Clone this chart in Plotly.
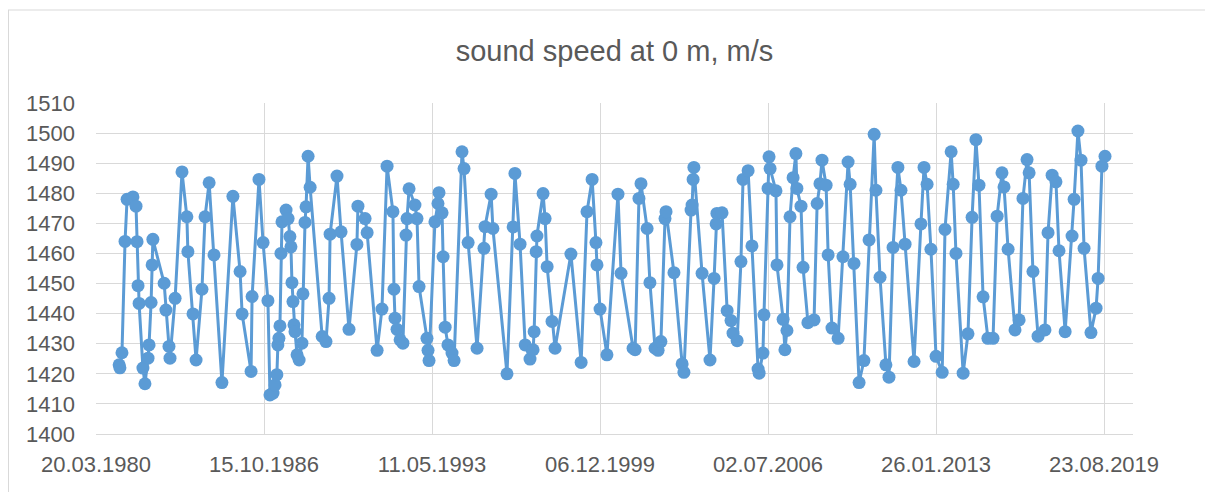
import pandas as pd
import plotly.graph_objects as go

years = [
    1981.12, 1981.15, 1981.23, 1981.35, 1981.43, 1981.66, 1981.78, 1981.82, 1981.86, 1981.90,
    1982.05, 1982.13, 1982.25, 1982.29, 1982.37, 1982.41, 1982.44, 1982.88, 1982.95, 1983.07,
    1983.11, 1983.31, 1983.58, 1983.77, 1983.81, 1984.01, 1984.13, 1984.36, 1984.48, 1984.64,
    1984.83, 1985.14, 1985.57, 1985.85, 1985.93, 1986.28, 1986.32, 1986.59, 1986.75, 1986.94,
    1987.02, 1987.14, 1987.22, 1987.29, 1987.33, 1987.37, 1987.41, 1987.45, 1987.49, 1987.65,
    1987.73, 1987.80, 1987.84, 1987.88, 1987.92, 1987.96, 1988.00, 1988.08, 1988.16, 1988.27,
    1988.31, 1988.39, 1988.43, 1988.51, 1988.59, 1989.06, 1989.21, 1989.33, 1989.37, 1989.64,
    1989.80, 1990.11, 1990.42, 1990.46, 1990.74, 1990.82, 1991.21, 1991.40, 1991.60, 1991.83,
    1991.87, 1991.91, 1991.99, 1992.11, 1992.22, 1992.34, 1992.38, 1992.46, 1992.69, 1992.77,
    1992.85, 1993.16, 1993.20, 1993.24, 1993.47, 1993.59, 1993.63, 1993.75, 1993.79, 1993.87,
    1993.98, 1994.14, 1994.22, 1994.53, 1994.61, 1994.77, 1995.12, 1995.39, 1995.43, 1995.67,
    1995.74, 1996.29, 1996.53, 1996.60, 1996.80, 1997.00, 1997.19, 1997.31, 1997.35, 1997.43,
    1997.46, 1997.70, 1997.78, 1997.86, 1998.05, 1998.17, 1998.79, 1999.19, 1999.42, 1999.62,
    1999.77, 1999.81, 1999.93, 2000.20, 2000.63, 2000.75, 2001.22, 2001.30, 2001.45, 2001.53,
    2001.77, 2001.88, 2002.08, 2002.20, 2002.31, 2002.47, 2002.51, 2002.82, 2003.14, 2003.21,
    2003.49, 2003.53, 2003.57, 2003.60, 2003.92, 2004.23, 2004.39, 2004.47, 2004.50, 2004.70,
    2004.90, 2005.05, 2005.13, 2005.29, 2005.44, 2005.52, 2005.72, 2005.87, 2006.11, 2006.15,
    2006.30, 2006.34, 2006.50, 2006.54, 2006.58, 2006.81, 2006.85, 2007.09, 2007.16, 2007.24,
    2007.36, 2007.48, 2007.59, 2007.63, 2007.79, 2007.87, 2008.06, 2008.30, 2008.42, 2008.53,
    2008.61, 2008.77, 2008.85, 2009.00, 2009.24, 2009.43, 2009.63, 2009.71, 2009.86, 2010.06,
    2010.25, 2010.45, 2010.65, 2010.72, 2010.88, 2011.11, 2011.23, 2011.39, 2011.58, 2011.70,
    2011.86, 2012.21, 2012.48, 2012.60, 2012.72, 2012.87, 2013.07, 2013.31, 2013.42, 2013.66,
    2013.74, 2013.85, 2014.13, 2014.32, 2014.48, 2014.63, 2014.75, 2014.91, 2015.10, 2015.30,
    2015.46, 2015.65, 2015.73, 2015.89, 2016.16, 2016.32, 2016.47, 2016.63, 2016.71, 2016.86,
    2017.06, 2017.33, 2017.45, 2017.61, 2017.76, 2017.88, 2018.12, 2018.39, 2018.47, 2018.62,
    2018.74, 2018.86, 2019.13, 2019.33, 2019.41, 2019.56, 2019.68,
]

# sound speed at 0 m, m/s
speed = [
    1423.0, 1422.0, 1427.0, 1464.0, 1478.0, 1478.8, 1475.7, 1463.9, 1449.3, 1443.4,
    1421.9, 1416.7, 1425.2, 1429.6, 1443.7, 1456.2, 1464.7, 1450.1, 1441.2, 1429.1,
    1425.2, 1445.1, 1487.1, 1472.2, 1460.6, 1439.9, 1424.6, 1448.1, 1472.2, 1483.5,
    1459.5, 1417.1, 1479.0, 1454.0, 1439.9, 1420.8, 1445.7, 1484.6, 1463.6, 1444.3,
    1413.0, 1413.6, 1416.3, 1419.7, 1429.6, 1431.8, 1435.9, 1460.0, 1470.5, 1474.4,
    1471.6, 1465.6, 1462.2, 1450.3, 1444.0, 1436.3, 1434.0, 1426.3, 1424.6, 1430.2,
    1446.6, 1470.3, 1475.5, 1492.3, 1482.0, 1432.4, 1430.7, 1445.1, 1466.4, 1485.7,
    1467.2, 1434.8, 1463.0, 1475.7, 1471.6, 1466.9, 1427.8, 1441.5, 1489.0, 1473.9,
    1448.1, 1438.5, 1434.8, 1431.3, 1430.2, 1466.1, 1471.6, 1481.5, 1476.1, 1471.6,
    1449.0, 1431.8, 1427.8, 1424.4, 1470.5, 1476.6, 1480.2, 1473.5, 1458.9, 1435.5,
    1429.6, 1426.9, 1424.4, 1493.8, 1488.2, 1463.6, 1428.5, 1461.7, 1468.9, 1479.7,
    1468.3, 1420.0, 1468.8, 1486.6, 1463.1, 1429.6, 1424.9, 1428.0, 1434.0, 1460.6,
    1465.8, 1479.9, 1471.6, 1455.6, 1437.4, 1428.5, 1459.8, 1423.8, 1473.9, 1484.6,
    1463.6, 1456.2, 1441.5, 1426.3, 1479.7, 1453.4, 1428.5, 1428.0, 1478.3, 1483.2,
    1468.3, 1450.3, 1428.5, 1427.8, 1430.7, 1471.6, 1473.9, 1453.6, 1423.3, 1420.5,
    1474.4, 1476.1, 1484.6, 1488.6, 1453.4, 1424.6, 1451.7, 1469.8, 1473.3, 1473.5,
    1441.0, 1437.7, 1433.5, 1431.0, 1457.3, 1484.6, 1487.5, 1462.5, 1421.6, 1420.2,
    1426.9, 1439.6, 1481.6, 1492.1, 1488.2, 1480.8, 1456.2, 1438.1, 1428.0, 1434.4,
    1472.2, 1485.2, 1493.2, 1481.6, 1475.7, 1455.4, 1437.0, 1437.9, 1476.6, 1483.2,
    1491.0, 1482.7, 1459.5, 1435.2, 1431.8, 1458.9, 1490.4, 1483.0, 1456.7, 1417.1,
    1424.4, 1464.5, 1499.6, 1481.0, 1452.1, 1423.0, 1418.9, 1462.0, 1488.6, 1481.0,
    1463.1, 1424.1, 1469.8, 1488.6, 1483.0, 1461.4, 1425.8, 1420.5, 1468.0, 1493.8,
    1483.0, 1460.0, 1420.2, 1433.3, 1472.0, 1497.8, 1482.7, 1445.6, 1431.8, 1431.8,
    1472.4, 1486.8, 1482.1, 1461.4, 1434.6, 1437.9, 1478.3, 1491.2, 1486.8, 1454.0,
    1432.5, 1434.6, 1466.9, 1486.0, 1483.8, 1460.9, 1434.0, 1465.8, 1478.0, 1500.7,
    1491.0, 1461.7, 1433.7, 1441.8, 1451.7, 1489.0, 1492.3,
]

title_text = "sound speed at 0 m, m/s"
x_tick_start = "1980-03-20"
x_tick_step_days = 2400
x_range = ["1980-03-20", "2020-10-10"]
y_range = [1400, 1510]
y_step = 10


def dec_to_date(y):
    yr = int(y)
    start = pd.Timestamp(yr, 1, 1)
    end = pd.Timestamp(yr + 1, 1, 1)
    return start + (end - start) * (y - yr)


dates = [dec_to_date(y) for y in years]

# page body has an 8px default margin, so the figure is sized to fit the window
W, H = 1205, 484
ML, MR, MT, MB = 88, 80, 95, 58
PW = W - ML - MR
PH = H - MT - MB

fig = go.Figure()
fig.add_trace(go.Scatter(
    x=dates, y=speed, mode="lines+markers",
    line=dict(color="#5B9BD5", width=3),
    marker=dict(color="#5B9BD5", size=13),
    showlegend=False,
))

font_family = "Liberation Sans, Arial, sans-serif"
grid = "#D9D9D9"

fig.update_layout(
    width=W, height=H,
    margin=dict(l=ML, r=MR, t=MT, b=MB),
    paper_bgcolor="white", plot_bgcolor="white",
    title=dict(text=title_text, x=(ML + PW / 2) / W, xanchor="center",
               y=1 - 43 / H, yanchor="middle", yref="container",
               font=dict(family=font_family, size=29, color="#595959")),
    font=dict(family=font_family, color="#595959"),
)

fig.update_xaxes(
    type="date", range=x_range,
    tick0=x_tick_start, dtick=x_tick_step_days * 86400000,
    tickformat="%d.%m.%Y",
    showgrid=True, gridcolor=grid, gridwidth=1,
    showline=True, linecolor=grid, linewidth=1,
    ticks="", tickfont=dict(size=22, color="#595959"),
    ticklabelstandoff=11,
    zeroline=False,
)
fig.update_yaxes(
    range=y_range, dtick=y_step, tick0=1400,
    showgrid=True, gridcolor=grid, gridwidth=1,
    showline=False, zeroline=False,
    ticks="", tickfont=dict(size=22, color="#595959"),
    ticklabelstandoff=20,
)

# chart-area border (top and left edges visible)
top = (PH + MT - 2) / PH
fig.add_shape(type="line", xref="paper", yref="paper",
              x0=-ML / PW, x1=(W - ML) / PW, y0=top, y1=top,
              line=dict(color=grid, width=1))
fig.add_shape(type="line", xref="paper", yref="paper",
              x0=-ML / PW + 0.0005, x1=-ML / PW + 0.0005, y0=top, y1=-MB / PH,
              line=dict(color=grid, width=1))

fig.write_html("out.html")
